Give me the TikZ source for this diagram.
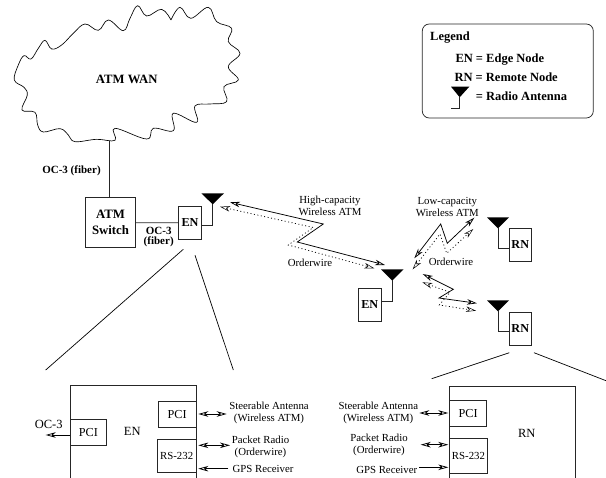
\documentclass[tikz,border=0pt]{standalone}
\usepackage{fontspec}
\setmainfont{Liberation Serif}
\usetikzlibrary{arrows.meta}
\tikzset{
 ln/.style={line width=0.75pt,draw=black!85},
 boxn/.style={ln,rectangle,inner sep=0pt,font=\fontsize{12.2}{13}\selectfont,fill=white},
 boldbox/.style={boxn,font=\fontsize{12.2}{13}\bfseries\selectfont},
 lbl/.style={inner sep=0pt,align=center,font=\fontsize{10.8}{12}\selectfont},
 big/.style={inner sep=0pt,font=\fontsize{12.5}{14}\selectfont},
 blbl/.style={inner sep=0pt,align=center,font=\fontsize{11}{10.8}\bfseries\selectfont},
 leg/.style={inner sep=0pt,anchor=west,font=\fontsize{12.5}{14}\bfseries\selectfont},
 zoomline/.style={line width=0.7pt,draw=black},
 solidzig/.style={line width=0.75pt,draw=black,{Stealth[length=10pt,width=5.5pt,inset=3pt,fill=white]}-{Stealth[length=10pt,width=5.5pt,inset=3pt,fill=white]}},
 dotzig/.style={line width=0.75pt,draw=black,dash pattern=on 1pt off 2.5pt,{Stealth[length=10pt,width=5.5pt,inset=3pt,fill=white,line width=0.5pt]}-{Stealth[length=10pt,width=5.5pt,inset=3pt,fill=white,line width=0.5pt]}},
 dbl/.style={line width=0.75pt,draw=black,{Stealth[length=10pt,width=5.5pt,inset=3pt,fill=white]}-{Stealth[length=10pt,width=5.5pt,inset=3pt,fill=white]}},
 sgl/.style={line width=0.75pt,draw=black,-{Stealth[length=10pt,width=5.5pt,inset=3pt,fill=white]}},
 antfill/.style={fill=black,draw=none},
}
\begin{document}
\begin{tikzpicture}[x=1pt,y=-1pt]
\useasboundingbox (0,0) rectangle (606,478);
% cloud
\draw[line width=0.65pt,draw=black,x=0.3333pt,y=-0.3333pt]
 plot[smooth,tension=0.65] coordinates {(513,60)(540,22)(572,55)(625,22)(650,65)(695,85)(685,125)(720,160)(685,200)(715,240)(672,260)(680,305)(630,312)(585,318)(590,367)(520,340)(520,392)(460,385)(440,417)(345,385)(345,421)(290,418)(225,425)(205,405)(180,386)(130,396)(113,375)(105,337)(66,330)(82,285)(72,262)(43,240)(55,195)(72,167)(93,177)(115,145)(135,121)(155,147)(185,135)(220,100)(255,72)(295,91)(325,60)(370,92)(390,55)(413,17)(440,48)(485,28)(513,60)};
\node[inner sep=0pt,font=\fontsize{12.7}{14}\bfseries\selectfont] (wan) at (126.7,79) {ATM WAN};
\coordinate (wanb) at (109,141);
% top left
\node[boldbox,align=center,minimum width=50.4pt,minimum height=49.6pt,font=\fontsize{12.8}{16.5}\bfseries\selectfont] (sw) at (110.5,222.5) {ATM\\Switch};
\node[boldbox,minimum width=22.6pt,minimum height=33.7pt] (en1) at (190,222.9) {EN};
\draw[ln] (wanb) -- (wanb |- sw.north);
\draw[ln] (sw) -- (en1);
\node[blbl] (oc3a) at (71.5,170.5) {OC-3 (fiber)};
\node[blbl] (oc3b) at (158.7,237) {OC-3\\(fiber)};
% antennas
\fill[antfill] (201.3,193.3) -- (224,193.3) -- (212.7,204.3) -- cycle;
\coordinate (a1) at (212.7,204);
\draw[ln] (a1) |- ([yshift=-2pt]en1.east);
\node[boldbox,minimum width=23pt,minimum height=33.4pt] (en2) at (369.8,305) {EN};
\fill[antfill] (381,269.3) -- (403.6,269.3) -- (392.3,280.7) -- cycle;
\coordinate (a2) at (392.3,280);
\draw[ln] (a2) |- ([yshift=4pt]en2.east);
\node[boldbox,minimum width=22.7pt,minimum height=33pt] (rn1) at (520.3,244.5) {RN};
\fill[antfill] (487,217.3) -- (509,217.3) -- (498,228.3) -- cycle;
\coordinate (a3) at (498,228);
\draw[ln] (a3) |- ([yshift=-4.2pt]rn1.west);
\node[boldbox,minimum width=22.7pt,minimum height=33pt] (rn2) at (520.3,328.5) {RN};
\fill[antfill] (487,300.3) -- (509,300.3) -- (498,311.3) -- cycle;
\coordinate (a4) at (498,311);
\draw[ln] (a4) |- ([yshift=-2.8pt]rn2.west);
% zigzags
\coordinate (z1a) at (230,202.3); \coordinate (z1b) at (385,265);
\draw[solidzig] (z1a) -- (323.3,224) -- (297.3,242) -- (z1b);
\coordinate (z2a) at (220,206.7); \coordinate (z2b) at (374.3,268.3);
\draw[dotzig] (z2a) -- (313.3,227.5) -- (288.3,245) -- (z2b);
\coordinate (z3a) at (414.3,258.3); \coordinate (z3b) at (474.3,217.7);
\draw[solidzig] (z3a) -- (440.7,224) -- (447.3,243.3) -- (z3b);
\coordinate (z4a) at (412.7,269.3); \coordinate (z4b) at (473.3,229);
\draw[dotzig] (z4a) -- (440,234) -- (446.7,253.3) -- (z4b);
\coordinate (z5a) at (422.7,274); \coordinate (z5b) at (477,303.3);
\draw[solidzig] (z5a) -- (453.3,289.3) -- (439,298) -- (z5b);
\coordinate (z6a) at (422.3,282.3); \coordinate (z6b) at (476,310.7);
\draw[dotzig] (z6a) -- (450,292.3) -- (439.3,305) -- (z6b);
\node[lbl] (hc) at (330,205.8) {High-capacity\\Wireless ATM};
\node[lbl] (lc) at (447.3,207) {Low-capacity\\Wireless ATM};
\node[lbl] (ow1) at (310,263) {Orderwire};
\node[lbl] (ow2) at (451,261.7) {Orderwire};
% zoom lines
\coordinate (zl1a) at (183.3,249.3); \coordinate (zl1b) at (45.7,370);
\coordinate (zl2a) at (195,255.3); \coordinate (zl2b) at (233.3,370);
\coordinate (zl3a) at (509.3,352.7); \coordinate (zl3b) at (431.7,378.7);
\coordinate (zl4a) at (534,352.7); \coordinate (zl4b) at (606,380.7);
\draw[zoomline] (zl1a) -- (zl1b);
\draw[zoomline] (zl2a) -- (zl2b);
\draw[zoomline] (zl3a) -- (zl3b);
\draw[zoomline] (zl4a) -- (zl4b);
% EN detail
\draw[ln] (70,478) -- (70,385.3) -- (196,385.3) -- (196,478);
\node[boxn,minimum width=36.7pt,minimum height=26pt] (pci1) at (88.35,432.3) {PCI};
\node[boxn,minimum width=37.7pt,minimum height=26pt] (pci2) at (177.15,414.3) {PCI};
\node[boxn,minimum width=38.7pt,minimum height=33.7pt,font=\fontsize{10.8}{12}\selectfont] (rs1) at (176.65,455.85) {RS-232};
\node[big] (entx) at (132.3,431.7) {EN};
\node[big] (oc3) at (48.7,424) {OC-3};
\coordinate (oc3t) at (45.7,435);
\draw[sgl] (70,435) -- (oc3t);
\node[lbl] (sa1) at (269,413.3) {Steerable Antenna\\(Wireless ATM)};
\node[lbl] (pr1) at (260.5,446.7) {Packet Radio\\(Orderwire)};
\node[lbl] (gps1) at (263,468.7) {GPS Receiver};
\draw[dbl] (198.3,414) -- (226.7,414);
\draw[dbl] (198.3,445.3) -- (230,445.3);
\draw[sgl] (gps1.west) ++(-4,0) -- (198.3,468.7);
% RN detail
\draw[ln] (449.7,478) -- (449.7,386.3) -- (575.7,386.3) -- (575.7,478);
\node[boxn,minimum width=37pt,minimum height=25.7pt] (pci3) at (468.2,413.15) {PCI};
\node[boxn,minimum width=37.6pt,minimum height=34.6pt,font=\fontsize{10.8}{12}\selectfont] (rs2) at (468.5,456) {RS-232};
\node[big] (rntx) at (526.7,433) {RN};
\node[lbl] (sa2) at (378.3,412.5) {Steerable Antenna\\(Wireless ATM)};
\node[lbl] (pr2) at (379,445.3) {Packet Radio\\(Orderwire)};
\node[lbl] (gps2) at (386.7,469.7) {GPS Receiver};
\draw[dbl] (419.3,413) -- (448.3,413);
\draw[dbl] (420.7,444.7) -- (448.3,444.7);
\draw[sgl] (419.3,467.3) -- (448.3,467.3);
% legend
\draw[ln,rounded corners=7pt] (422.3,24) rectangle (593.3,118);
\node[leg] (lg) at (430,37.7) {Legend};
\node[leg] (lg1) at (455.3,60) {EN = Edge Node};
\node[leg] (lg2) at (454.3,77.7) {RN = Remote Node};
\node[leg] (lg3) at (475.7,96) {= Radio Antenna};
\fill[antfill] (451,86.7) -- (469.3,86.7) -- (459.7,97.3) -- cycle;
\coordinate (la) at (459.5,97);
\coordinate (lb) at (451,108.7);
\draw[ln] (la) |- (lb);
\end{tikzpicture}
\end{document}
